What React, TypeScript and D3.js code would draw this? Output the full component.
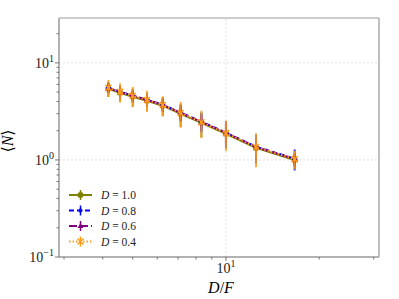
import React, { useEffect, useRef } from 'react';
import * as d3 from 'd3';

// D/F values (x) shared by all series
const ratio = [4.17, 4.55, 5.0, 5.56, 6.25, 7.14, 8.33, 10.0, 12.5, 16.67];

// <N> per series
const meanD10 = [5.4, 4.92, 4.48, 4.07, 3.62, 2.99, 2.41, 1.86, 1.33, 1.0];
const meanD08 = [5.55, 5.05, 4.6, 4.17, 3.71, 3.07, 2.48, 1.91, 1.37, 1.03];
const meanD06 = [5.5, 5.02, 4.57, 4.15, 3.69, 3.05, 2.46, 1.9, 1.36, 1.02];
const meanD04 = [5.55, 5.03, 4.58, 4.15, 3.68, 3.05, 2.45, 1.89, 1.36, 1.02];

// error bar half widths
const errD10 = [0.95, 0.95, 0.95, 0.9, 0.8, 0.8, 0.7, 0.5, 0.4, 0.15];
const errD08 = [0.7, 0.75, 0.7, 0.65, 0.6, 0.6, 0.55, 0.6, 0.45, 0.25];
const errD06 = [0.6, 0.6, 0.55, 0.55, 0.5, 0.45, 0.4, 0.4, 0.3, 0.15];
const errD04 = [1.1, 1.13, 1.07, 1.0, 0.85, 0.9, 0.77, 0.65, 0.52, 0.22];

const labels = ['1.0', '0.8', '0.6', '0.4'];

const series = [
  { label: labels[0], mean: meanD10, err: errD10, color: '#808000', dash: null, marker: 'circle' },
  { label: labels[1], mean: meanD08, err: errD08, color: '#0000ff', dash: '5,3', marker: 'diamond' },
  { label: labels[2], mean: meanD06, err: errD06, color: '#800080', dash: '8,3', marker: 'triangle' },
  { label: labels[3], mean: meanD04, err: errD04, color: '#ff9c1a', dash: '1.5,2', marker: 'cross' },
];

const W = 399;
const H = 299;
const margin = { left: 59, right: 20, top: 18, bottom: 42 };
const serif = '"Liberation Serif", "DejaVu Serif", serif';

export default function App() {
  const ref = useRef<SVGSVGElement>(null);

  useEffect(() => {
    const svg = d3.select(ref.current);
    svg.selectAll('*').remove();

    const x = d3.scaleLog().domain([2.89, 31.2]).range([margin.left, W - margin.right]);
    const y = d3.scaleLog().domain([0.1, 29]).range([H - margin.bottom, margin.top]);
    const [x0, x1] = x.range();
    const [y0, y1] = y.range();

    // grid at majors
    const grid = svg.append('g').attr('stroke', '#d6d6d6').attr('stroke-width', 0.8).attr('stroke-dasharray', '2,2');
    [1, 10].forEach((v) => grid.append('line').attr('x1', x0).attr('x2', x1).attr('y1', y(v)).attr('y2', y(v)));
    [10].forEach((v) => grid.append('line').attr('x1', x(v)).attr('x2', x(v)).attr('y1', y0).attr('y2', y1));

    // ticks
    const ticks = svg.append('g').attr('stroke', '#555').attr('stroke-width', 0.8);
    const yTicks = y.ticks().filter((v) => v >= 0.1 && v <= 29);
    yTicks.forEach((v) => {
      const major = Math.abs(Math.log10(v) - Math.round(Math.log10(v))) < 1e-6;
      ticks.append('line').attr('x1', x0).attr('x2', x0 - (major ? 4 : 2.5)).attr('y1', y(v)).attr('y2', y(v));
    });
    const xTicks = x.ticks().filter((v) => v >= 2.89 && v <= 31.2);
    xTicks.forEach((v) => {
      const major = Math.abs(Math.log10(v) - Math.round(Math.log10(v))) < 1e-6;
      ticks.append('line').attr('y1', y0).attr('y2', y0 + (major ? 4 : 2.5)).attr('x1', x(v)).attr('x2', x(v));
    });

    // tick labels
    const lab = svg.append('g').attr('font-family', serif).attr('fill', '#222');
    [0.1, 1, 10].forEach((v) => {
      const e = Math.round(Math.log10(v));
      const t = lab.append('text').attr('x', x0 - 5).attr('y', y(v) + 5).attr('text-anchor', 'end').attr('font-size', 14);
      t.append('tspan').text('10');
      t.append('tspan').attr('dy', -6).attr('font-size', 10).text(e < 0 ? '\u2212' + -e : String(e));
    });
    [10].forEach((v) => {
      const t = lab.append('text').attr('x', x(v)).attr('y', y0 + 16).attr('text-anchor', 'middle').attr('font-size', 14);
      t.append('tspan').text('10');
      t.append('tspan').attr('dy', -6).attr('font-size', 10).text('1');
    });

    // axis titles
    svg.append('text').attr('font-family', serif).attr('font-size', 16).attr('text-anchor', 'middle')
      .attr('transform', `translate(${13},${141}) rotate(-90)`)
      .html('\u27E8<tspan font-style="italic">N</tspan>\u27E9');
    svg.append('text').attr('font-family', serif).attr('font-size', 16).attr('text-anchor', 'middle')
      .attr('x', 221).attr('y', H - 6)
      .html('<tspan font-style="italic">D</tspan>/<tspan font-style="italic">F</tspan>');

    const drawMarker = (g: any, cx: number, cy: number, s: any, size: number) => {
      if (s.marker === 'circle') g.append('circle').attr('cx', cx).attr('cy', cy).attr('r', size).attr('fill', s.color);
      else if (s.marker === 'diamond') g.append('path').attr('d', `M${cx},${cy - size}L${cx + size * 0.8},${cy}L${cx},${cy + size}L${cx - size * 0.8},${cy}Z`).attr('fill', s.color);
      else if (s.marker === 'triangle') g.append('path').attr('d', `M${cx},${cy - size}L${cx + size},${cy + size * 0.7}L${cx - size},${cy + size * 0.7}Z`).attr('fill', s.color);
      else g.append('path').attr('d', `M${cx - size},${cy - size}L${cx + size},${cy + size}M${cx - size},${cy + size}L${cx + size},${cy - size}`).attr('stroke', s.color).attr('stroke-width', 1.5);
    };

    const line = d3.line<number>().x((_, i) => x(ratio[i])).y((d) => y(d));
    const plot = svg.append('g');
    series.forEach((s) => {
      const g = plot.append('g');
      s.mean.forEach((m, i) => {
        g.append('line').attr('x1', x(ratio[i])).attr('x2', x(ratio[i]))
          .attr('y1', y(m + s.err[i])).attr('y2', y(Math.max(m - s.err[i], 0.11)))
          .attr('stroke', s.color).attr('stroke-width', 2).attr('opacity', 0.85);
      });
      g.append('path').attr('d', line(s.mean)).attr('fill', 'none').attr('stroke', s.color)
        .attr('stroke-width', 2).attr('stroke-dasharray', s.dash);
      s.mean.forEach((m, i) => drawMarker(g, x(ratio[i]), y(m), s, 3));
    });

    // spines
    svg.append('line').attr('x1', x0).attr('x2', x0).attr('y1', y0).attr('y2', y1).attr('stroke', '#666').attr('stroke-width', 1);
    svg.append('line').attr('x1', x0).attr('x2', x1).attr('y1', y0).attr('y2', y0).attr('stroke', '#666').attr('stroke-width', 1);
    svg.append('line').attr('x1', x0).attr('x2', x1).attr('y1', y1).attr('y2', y1).attr('stroke', '#999').attr('stroke-width', 1.2);
    svg.append('line').attr('x1', x1).attr('x2', x1).attr('y1', y0).attr('y2', y1).attr('stroke', '#aaa').attr('stroke-width', 1.5);

    // legend
    const leg = svg.append('g');
    series.forEach((s, i) => {
      const ly = 195 + i * 15.5;
      const g = leg.append('g');
      g.append('line').attr('x1', 69).attr('x2', 92).attr('y1', ly).attr('y2', ly)
        .attr('stroke', s.color).attr('stroke-width', 2).attr('stroke-dasharray', s.dash);
      g.append('line').attr('x1', 80.5).attr('x2', 80.5).attr('y1', ly - 5).attr('y2', ly + 5)
        .attr('stroke', s.color).attr('stroke-width', 1.5);
      drawMarker(g, 80.5, ly, s, 3);
      g.append('text').attr('x', 101).attr('y', ly + 4).attr('font-family', serif).attr('font-size', 11.5).attr('fill', '#222')
        .html(`<tspan font-style="italic">D</tspan> = ${s.label}`);
    });
  }, []);

  return (
    <div style={{ position: 'fixed', left: 0, top: 0 }}>
      <svg ref={ref} width={W} height={H} style={{ display: 'block', background: '#fff' }} />
    </div>
  );
}
